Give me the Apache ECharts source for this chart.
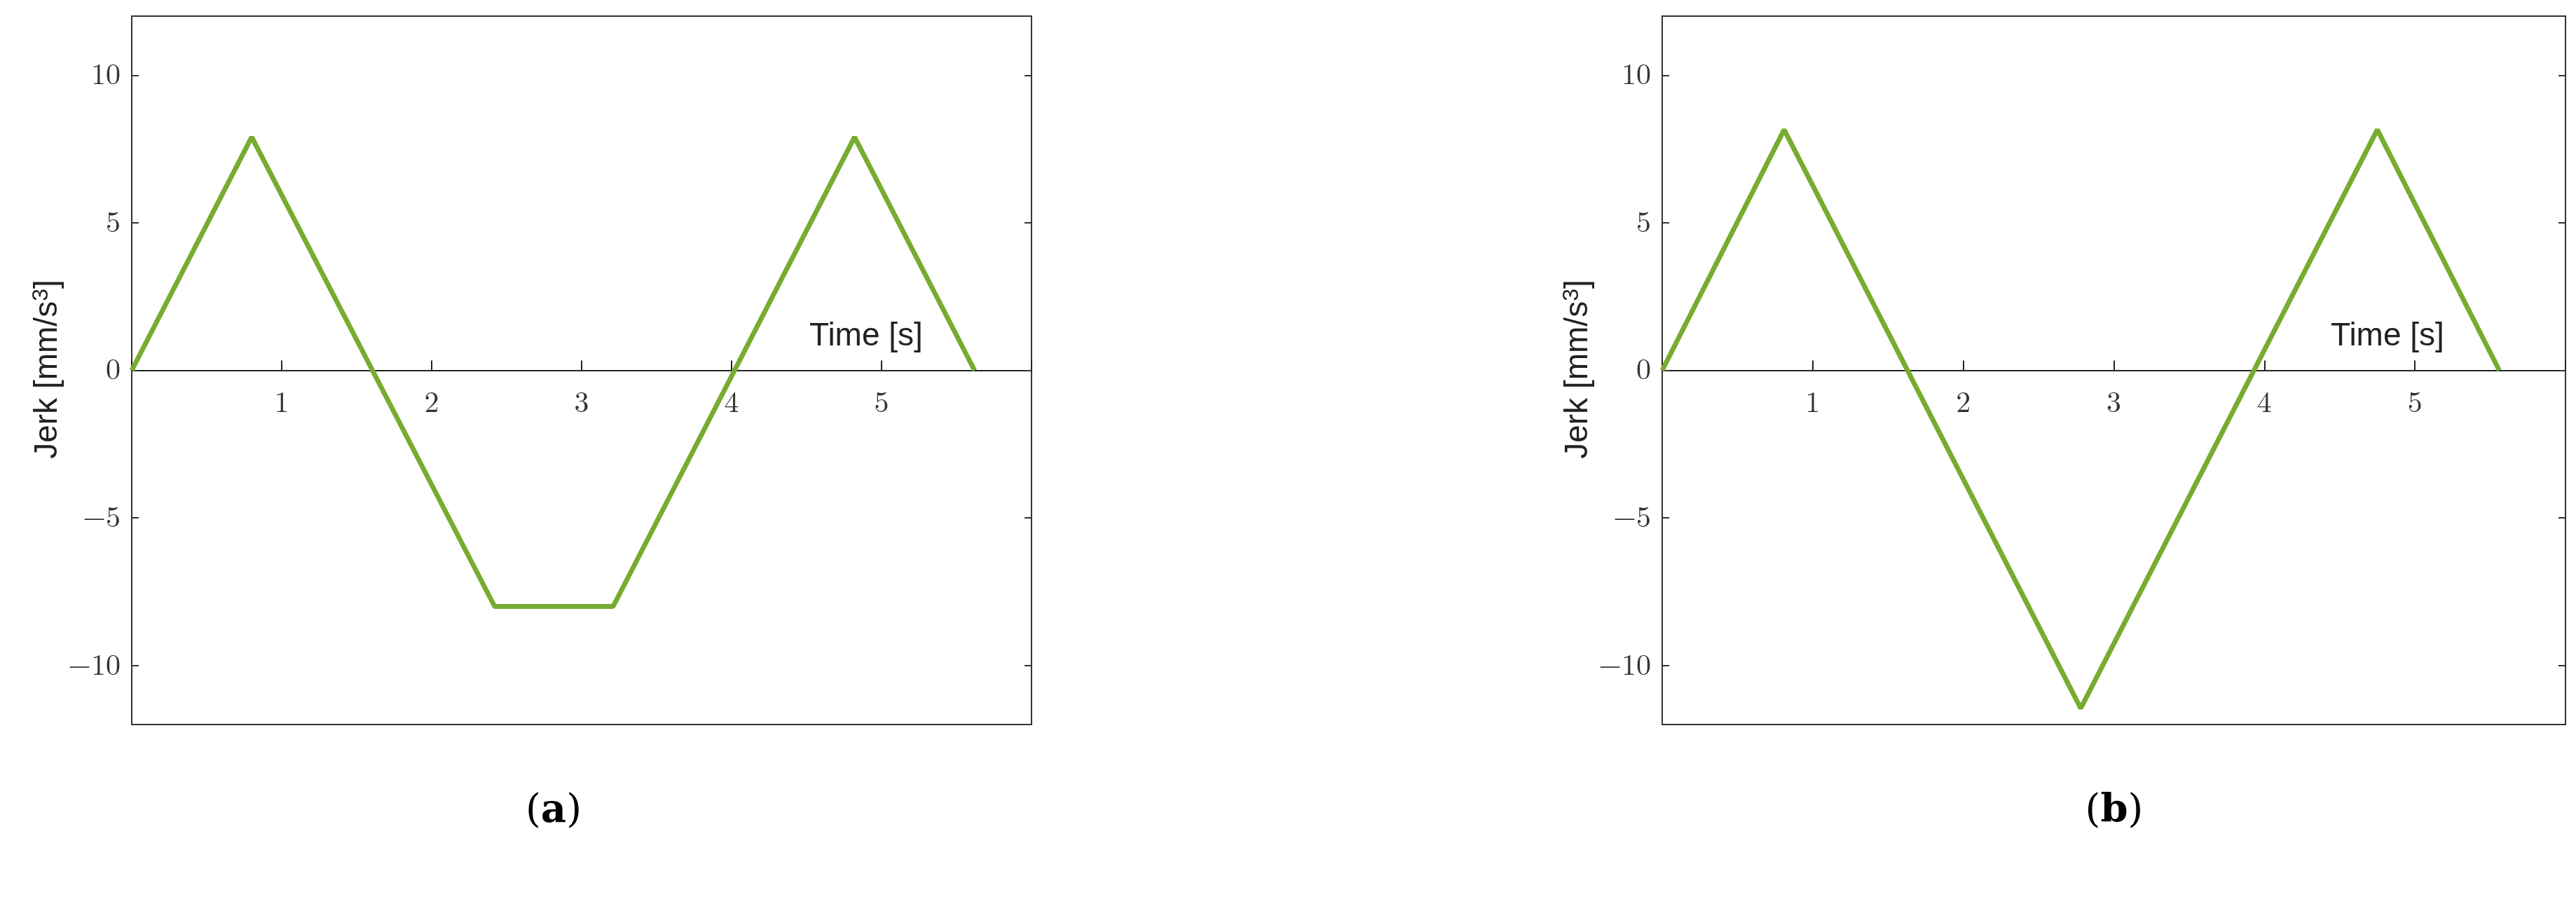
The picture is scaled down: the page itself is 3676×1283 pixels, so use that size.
<!DOCTYPE html>
<html><head><meta charset="utf-8">
<script src="https://cdn.jsdelivr.net/npm/echarts@6/dist/echarts.min.js"></script>
<style>html,body{margin:0;background:#fff}#c{width:3676px;height:1283px}</style>
</head><body><div id="c"></div>
<script>
const timeA = [0, 0.80, 2.42, 3.21, 4.82, 5.62];
const jerkA = [0, 7.9, -8.0, -8.0, 7.9, 0];
const timeB = [0, 0.81, 2.78, 4.75, 5.56];
const jerkB = [0, 8.15, -11.45, 8.15, 0];
const xTicks = [1, 2, 3, 4, 5];
const yTicks = [-10, -5, 0, 5, 10];
const panelLabels = ['a', 'b'];

const chart = echarts.init(document.getElementById('c'));
const grids = [
  {left: 188, width: 1284, top: 23, height: 1011},
  {left: 2372, width: 1289, top: 23, height: 1011}
];
const serif = 'Latin Modern Roman, DejaVu Serif, serif';
const sans = 'Liberation Sans, Arial, sans-serif';
const xAxes = [], yAxes = [], series = [];
grids.forEach((g, i) => {
  g.show = true; g.borderColor = '#333'; g.borderWidth = 2; g.backgroundColor = 'transparent';
  xAxes.push({type: 'value', gridIndex: i, min: 0, max: 6, interval: 1, position: 'bottom',
    offset: -g.height / 2,
    axisLine: {onZero: false, lineStyle: {color: '#222', width: 2}},
    axisTick: {inside: true, length: 14, lineStyle: {color: '#222', width: 2}},
    axisLabel: {formatter: v => xTicks.includes(v) ? String(v) : '', fontFamily: serif, fontSize: 42, color: '#333', margin: 26},
    splitLine: {show: false}});
  yAxes.push({type: 'value', gridIndex: i, min: -12, max: 12, interval: 5,
    axisLine: {show: false},
    axisTick: {inside: true, length: 10, lineStyle: {color: '#333', width: 2}, customValues: yTicks},
    axisLabel: {customValues: yTicks, formatter: v => v < 0 ? '\u2212' + (-v) : String(v), fontFamily: serif, fontSize: 42, color: '#333', margin: 16},
    splitLine: {show: false}});
  yAxes.push({type: 'value', gridIndex: i, position: 'right', min: -12, max: 12,
    axisLine: {show: false},
    axisTick: {inside: true, length: 10, lineStyle: {color: '#333', width: 2}, customValues: yTicks},
    axisLabel: {show: false}, splitLine: {show: false}});
});
const dataA = timeA.map((t, k) => [t, jerkA[k]]);
const dataB = timeB.map((t, k) => [t, jerkB[k]]);
[dataA, dataB].forEach((d, i) => series.push({type: 'line', xAxisIndex: i, yAxisIndex: 2 * i, data: d,
  showSymbol: false, lineStyle: {color: '#77ac30', width: 7}, z: 5}));

const yName = x => ({type: 'text', x: x, y: 527, rotation: Math.PI / 2,
  style: {text: '{n|Jerk [mm/s}{s|3}{n|]}', rich: {n: {font: '46px ' + sans, fill: '#222'}, s: {font: '32px ' + sans, fill: '#222', verticalAlign: 'top', padding: [0, 0, 18, 0]}},
    align: 'center', verticalAlign: 'middle'}});
const panel = (x, t) => ({type: 'text', x: x, y: 1158, style: {rich: {p: {font: '56px DejaVu Serif, serif', fill: '#000'}, b: {font: 'bold 56px DejaVu Serif, serif', fill: '#000'}}, text: '{p|(}{b|' + t + '}{p|)}', align: 'center', verticalAlign: 'middle'}});
chart.setOption({
  animation: false,
  grid: grids, xAxis: xAxes, yAxis: yAxes, series: series,
  graphic: [
    yName(68), yName(2252),
    {type: 'text', x: 1155, y: 480, style: {text: 'Time [s]', font: '46px ' + sans, fill: '#222', verticalAlign: 'middle'}},
    {type: 'text', x: 3326, y: 480, style: {text: 'Time [s]', font: '46px ' + sans, fill: '#222', verticalAlign: 'middle'}},
    panel(790, panelLabels[0]), panel(3017, panelLabels[1])
  ]
});
</script></body></html>
